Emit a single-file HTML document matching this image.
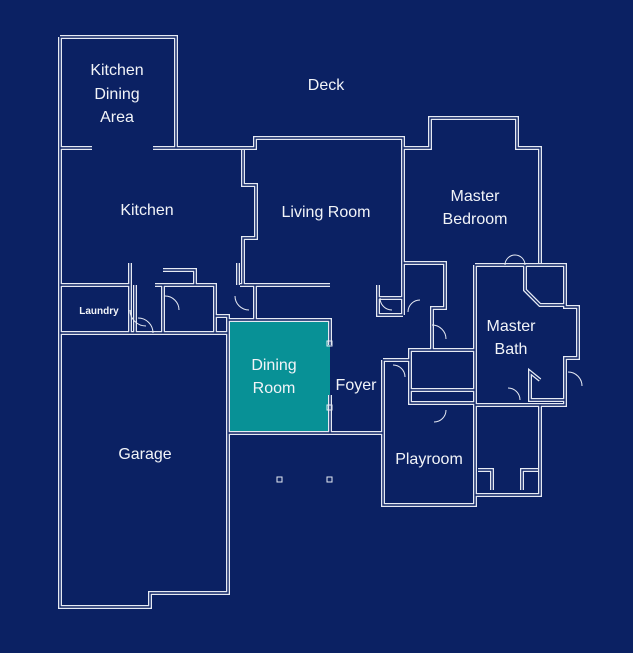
<!DOCTYPE html>
<html><head><meta charset="utf-8"><style>
html,body{margin:0;padding:0;background:#0b2163;}
svg{display:block}
text{font-family:"Liberation Sans",sans-serif;fill:#f2f4f8;font-size:16px;text-anchor:middle}
</style></head><body>
<svg width="633" height="653" viewBox="0 0 633 653" xmlns="http://www.w3.org/2000/svg">
<rect width="633" height="653" fill="#0b2163"/>
<rect x="227" y="320" width="103" height="112" fill="#089196"/>
<defs>
<path id="w" fill="none" d="
M92 148 H60 V607 H150 V593 H228 V333 H60
M60 37 V148
M60 37 H176 V148 H153
M176 148 H255 V138 H403 V263 H445 V308 H432 V350
M403 148 H430 V118 H517 V148 H540 V263
M243 150 V185 H256 V238 H243 V285
M60 285 H130 M60 333 V285 M130 285 V333 M130 263 V333
M135 285 V333 M163 270 H195 V285 M155 285 H215 V333 M163 285 V333
M240 285 H330 M215 316 H228 V333 M255 285 V320 M228 320 H330 V345
M330 395 V433 M228 433 H383 M383 360 V505 H475 V403
M383 360 H410 V350 H475 M410 350 V403 H475 M410 390 H475
M475 265 V403 M475 265 H565 V307 H578 V358 H565 V405 H475
M475 405 V495 H540 V405 M478 470 H492 V490 M538 470 H522 V490
M525 265 L525 290 L540 305 H565
M540 380 L530 372 V400 H565
M378 285 V315 H403 M378 298 H403 M403 263 V315
M228 433 V593 M238 263 V285
"/>
</defs>
<use href="#w" stroke="#e6eaf3" stroke-width="4"/>
<use href="#w" stroke="#0b2163" stroke-width="1.4"/>
<g fill="none" stroke="#e6eaf3" stroke-width="1">
<path d="M130 310 A16 16 0 0 0 146 326 M138 318 A15 15 0 0 1 153 333"/>
<path d="M165 296 A14 14 0 0 1 179 310 M235 296 A14 14 0 0 0 249 310"/>
<path d="M380 298 A12 12 0 0 0 392 310 M420 300 A12 12 0 0 0 408 312"/>
<path d="M432 325 A14 14 0 0 1 446 339 M393 365 A12 12 0 0 1 405 377"/>
<path d="M446 410 A12 12 0 0 1 434 422 M505 265 A10 10 0 0 1 515 255 A10 10 0 0 1 525 265"/>
<path d="M568 372 A14 14 0 0 1 582 386 M508 388 A12 12 0 0 1 520 400"/>
</g>
<g fill="none" stroke="#e6eaf3" stroke-width="1">
<rect x="277" y="477" width="5" height="5"/><rect x="327" y="477" width="5" height="5"/>
<rect x="327" y="341" width="5" height="5"/><rect x="327" y="405" width="5" height="5"/>
</g>
<text x="117" y="75">Kitchen</text>
<text x="117" y="99">Dining</text>
<text x="117" y="122">Area</text>
<text x="326" y="90">Deck</text>
<text x="147" y="215">Kitchen</text>
<text x="326" y="217">Living Room</text>
<text x="475" y="201">Master</text>
<text x="475" y="224">Bedroom</text>
<text x="511" y="331">Master</text>
<text x="511" y="354">Bath</text>
<text x="274" y="370">Dining</text>
<text x="274" y="393">Room</text>
<text x="356" y="390">Foyer</text>
<text x="145" y="459">Garage</text>
<text x="429" y="464">Playroom</text>
<text x="99" y="314" style="font-size:10px;font-weight:bold">Laundry</text>
</svg>
</body></html>
